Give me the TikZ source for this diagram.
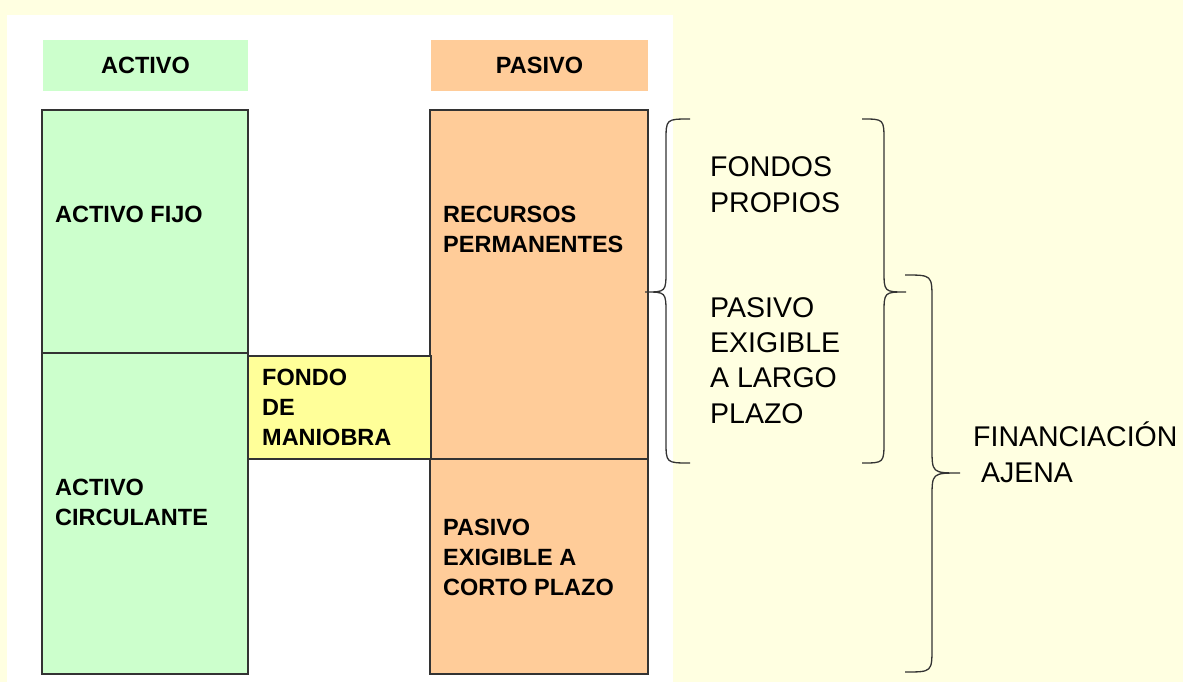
\documentclass[tikz,border=0pt]{standalone}
\usepackage{fontspec}
\setmainfont{Liberation Sans}
\definecolor{bgc}{HTML}{FFFFE1}
\definecolor{greenc}{HTML}{CCFFCC}
\definecolor{orangec}{HTML}{FFCC99}
\definecolor{yellowc}{HTML}{FFFF99}
\definecolor{linec}{HTML}{333333}
\tikzset{
  header/.style={rectangle, inner sep=0pt, font=\bfseries\fontsize{23.5}{29.5}\selectfont},
  box/.style={rectangle, draw=linec, line width=1.2pt, inner sep=0pt},
  boldtxt/.style={anchor=base west, inner sep=0pt, align=left, font=\bfseries\fontsize{23.5}{29.6}\selectfont},
  plaintxt/.style={anchor=base west, inner sep=0pt, align=left, font=\fontsize{28.5}{35.3}\selectfont},
  bracestyle/.style={draw=linec, line width=1.3pt}
}
\begin{document}
\begin{tikzpicture}[x=1pt,y=-1pt]
\useasboundingbox (0,0) rectangle (1183,682);
\fill[bgc] (0,0) rectangle (1183,682);
\fill[white] (7,15) rectangle (673,682);
% headers
\node[header, fill=greenc, minimum width=205pt, minimum height=51pt] (hact) at (145.5,65.5) {ACTIVO};
\node[header, fill=orangec, minimum width=217pt, minimum height=51pt] (hpas) at (539.5,65.5) {PASIVO};
% boxes
\node[box, fill=greenc, minimum width=206pt, minimum height=243pt] (fijo) at (145,231.5) {};
\node[box, fill=greenc, minimum width=206pt, minimum height=321pt] (circ) at (145,513.5) {};
\node[box, fill=orangec, minimum width=218pt, minimum height=349pt] (perm) at (539,284.5) {};
\node[box, fill=orangec, minimum width=218pt, minimum height=215pt] (corto) at (539,566.5) {};
\node[box, fill=yellowc, minimum width=183pt, minimum height=103pt] (fondo) at (339.5,407.5) {};
% texts (base anchor = baseline of last line)
\node[boldtxt] (tfijo) at (55,222) {ACTIVO FIJO};
\node[boldtxt] (tcirc) at (55,525) {ACTIVO\\CIRCULANTE};
\node[boldtxt] (tfondo) at (262,445) {FONDO\\DE\\MANIOBRA};
\node[boldtxt] (tperm) at (443,252) {RECURSOS\\PERMANENTES};
\node[boldtxt] (tcorto) at (443,595) {PASIVO\\EXIGIBLE A\\CORTO PLAZO};
\node[plaintxt] (tprop) at (710,212) {FONDOS\\PROPIOS};
\node[plaintxt] (tlargo) at (710,423) {PASIVO\\EXIGIBLE\\A LARGO\\PLAZO};
\node[plaintxt] (tajena) at (973,482) {FINANCIACIÓN\\\ AJENA};
% brace 1 (opening left)
\draw[bracestyle] (690,119) .. controls (666,119) .. (666,141) -- (666,270)
  .. controls (666,292) .. (645,292) .. controls (666,292) .. (666,314)
  -- (666,441) .. controls (666,463) .. (690,463);
% brace 2 (opening right)
\draw[bracestyle] (862,119) .. controls (884,119) .. (884,141) -- (884,270)
  .. controls (884,292) .. (906,292) .. controls (884,292) .. (884,314)
  -- (884,441) .. controls (884,463) .. (862,463);
% brace 3 (opening right)
\draw[bracestyle] (905,275) .. controls (932,275) .. (932,300) -- (932,448)
  .. controls (932,473) .. (960,473) .. controls (932,473) .. (932,498)
  -- (932,647) .. controls (932,672) .. (905,672);
\end{tikzpicture}
\end{document}
